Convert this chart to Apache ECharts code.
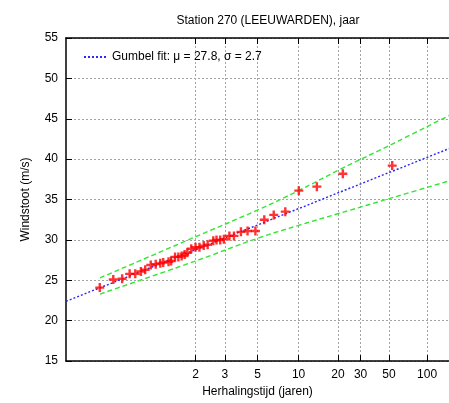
<!DOCTYPE html>
<html>
<head>
<meta charset="utf-8">
<script src="https://cdn.jsdelivr.net/npm/echarts@6/dist/echarts.min.js"></script>
<style>
  html, body { margin: 0; padding: 0; background: #fff; }
  #chart { width: 449px; height: 403px; }
</style>
</head>
<body>
<div id="chart"></div>
<script>
// Annual maximum wind gusts, plotted on the Gumbel reduced-variate scale
const pointX = [-1.383, -1.136, -0.974, -0.837, -0.734, -0.631, -0.553, -0.451, -0.360, -0.277,
                -0.223, -0.126, -0.079, -0.007, 0.054, 0.114, 0.168, 0.217, 0.289, 0.367,
                0.439, 0.517, 0.589, 0.692, 0.751, 0.818, 0.885, 0.986, 1.070, 1.197,
                1.318, 1.462, 1.624, 1.797, 2.008, 2.255, 2.585, 3.060, 3.962];
const windGust = [24.1, 25.1, 25.2, 25.8, 25.8, 26.1, 26.3, 26.9, 27.0, 27.1,
                  27.2, 27.3, 27.4, 27.9, 27.9, 28.0, 28.2, 28.4, 28.9, 29.1,
                  29.1, 29.3, 29.4, 29.9, 30.0, 30.0, 30.1, 30.5, 30.5, 31.0,
                  31.1, 31.1, 32.5, 33.1, 33.5, 36.1, 36.6, 38.2, 39.2];

// Gumbel fit parameters
const mu = 27.8;
const sigma = 2.7;

// Confidence band around the fit
const bandX = [-1.38, 0.37, 1.5, 2.25, 3.0, 4.0, 5.0];
const bandUpper = [25.3, 30.4, 33.7, 36.1, 38.7, 42.0, 45.4];
const bandLower = [23.3, 27.4, 30.2, 31.8, 33.3, 35.3, 37.3];

// Return periods (years) shown on the horizontal axis
const returnPeriods = [2, 3, 5, 10, 20, 30, 50, 100];
const yTicks = [15, 20, 25, 30, 35, 40, 45, 50, 55];

const xMin = -2, xMax = 5;
const reduced = T => -Math.log(-Math.log(1 - 1 / T));
const tickPos = returnPeriods.map(reduced);
const fitName = 'Gumbel fit: \u03bc = ' + mu.toFixed(1) + ', \u03c3 = ' + sigma.toFixed(1);

const FONT = 'Liberation Sans, Arial, Helvetica, sans-serif';
const gridStyle = { color: '#a4a4a4', width: 1, type: [2, 2] };

const chart = echarts.init(document.getElementById('chart'), null, { renderer: 'canvas' });
chart.setOption({
  animation: false,
  backgroundColor: '#fff',
  title: {
    text: 'Station 270 (LEEUWARDEN), jaar',
    left: 263, top: 10, textAlign: 'center',
    textStyle: { fontFamily: FONT, fontSize: 12, fontWeight: 'normal', color: '#000' }
  },
  legend: {
    data: [fitName],
    left: 78, top: 46,
    itemWidth: 23, itemHeight: 12,
    itemStyle: { opacity: 0 },
    textStyle: { fontFamily: FONT, fontSize: 12, color: '#000' }
  },
  grid: { left: 66, top: 38, width: 389, height: 324, containLabel: false },
  xAxis: [{
    type: 'value', min: xMin, max: xMax, position: 'bottom',
    name: 'Herhalingstijd (jaren)', nameLocation: 'middle', nameGap: 24,
    nameTextStyle: { fontFamily: FONT, fontSize: 12, color: '#000' },
    axisLine: { show: true, onZero: false, lineStyle: { color: '#000', width: 1.5 } },
    axisTick: { show: true, inside: true, length: 6, customValues: tickPos, lineStyle: { color: '#000', width: 1 } },
    axisLabel: {
      show: true, margin: 8, customValues: tickPos,
      fontFamily: FONT, fontSize: 12, color: '#000',
      formatter: v => {
        let best = 0;
        tickPos.forEach((p, i) => { if (Math.abs(p - v) < Math.abs(tickPos[best] - v)) best = i; });
        return String(returnPeriods[best]);
      }
    },
    splitLine: { show: true, lineStyle: gridStyle }
  }, {
    type: 'value', min: xMin, max: xMax, position: 'top',
    axisLine: { show: true, onZero: false, lineStyle: { color: '#000', width: 1.5 } },
    axisTick: { show: true, inside: true, length: 6, customValues: tickPos, lineStyle: { color: '#000', width: 1 } },
    axisLabel: { show: false },
    splitLine: { show: false }
  }],
  yAxis: {
    type: 'value', min: 15, max: 55, interval: 5,
    name: 'Windstoot (m/s)', nameLocation: 'middle', nameGap: 34, nameRotate: 90,
    nameTextStyle: { fontFamily: FONT, fontSize: 12, color: '#000' },
    axisLine: { show: true, onZero: false, lineStyle: { color: '#000', width: 1.5 } },
    axisTick: { show: true, inside: true, length: 6, lineStyle: { color: '#000', width: 1 } },
    axisLabel: { margin: 8, fontFamily: FONT, fontSize: 12, color: '#000',
                 formatter: v => yTicks.includes(v) ? String(v) : '' },
    splitLine: { show: true, lineStyle: gridStyle }
  },
  series: [
    {
      name: 'upper', type: 'line', xAxisIndex: 0, smooth: 0.4, symbol: 'none', silent: true,
      data: bandX.map((x, i) => [x, bandUpper[i]]),
      lineStyle: { color: '#33e633', width: 1.4, type: [5, 3] }, z: 3
    },
    {
      name: 'lower', type: 'line', xAxisIndex: 0, smooth: 0.4, symbol: 'none', silent: true,
      data: bandX.map((x, i) => [x, bandLower[i]]),
      lineStyle: { color: '#33e633', width: 1.4, type: [5, 3] }, z: 3
    },
    {
      name: fitName, type: 'line', xAxisIndex: 0, symbol: 'none', silent: true,
      data: [[xMin, mu + sigma * xMin], [xMax, mu + sigma * xMax]],
      itemStyle: { color: '#2828ff' },
      lineStyle: { color: '#2828ff', width: 1.4, type: [2, 2] }, z: 4
    },
    {
      name: 'waarnemingen', type: 'scatter', xAxisIndex: 0,
      symbol: 'path://M3.3,0h2.4v3.3h3.3v2.4h-3.3v3.3h-2.4v-3.3h-3.3v-2.4h3.3z', symbolSize: 9,
      itemStyle: { color: '#ff0000' },
      data: pointX.map((x, i) => [x, windGust[i]]), z: 5
    }
  ]
});
</script>
</body>
</html>
